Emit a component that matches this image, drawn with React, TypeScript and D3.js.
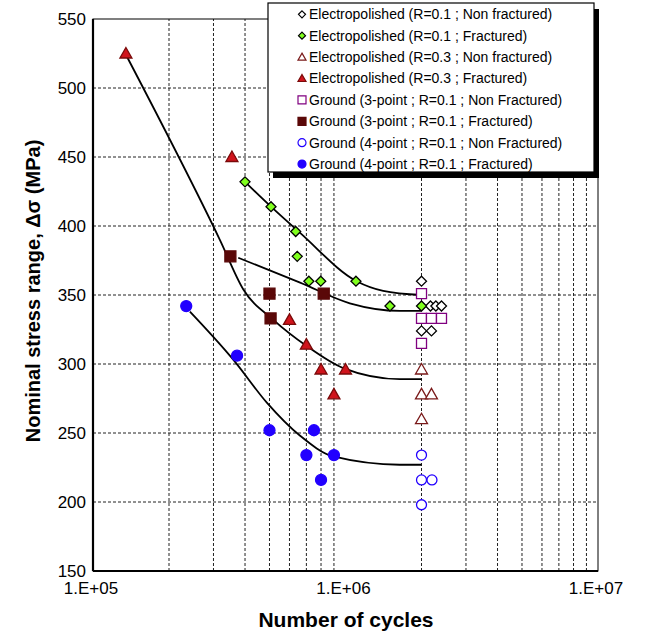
import * as d3 from 'd3';

// Electropolished R=0.1, non fractured (open diamonds)
const epR01NonFracN = [2.0e6, 2.17e6, 2.28e6, 2.4e6, 2.0e6, 2.19e6];
const epR01NonFracS = [360, 342, 342, 342, 324, 324];
// Electropolished R=0.1, fractured (green diamonds)
const epR01FracN = [4.0e5, 5.07e5, 6.35e5, 6.44e5, 7.16e5, 7.98e5, 1.1e6, 1.5e6, 2.0e6];
const epR01FracS = [432, 414, 396, 378, 360, 360, 360, 342, 342];
// Electropolished R=0.3, non fractured (open triangles)
const epR03NonFracN = [2.0e6, 2.0e6, 2.19e6, 2.0e6];
const epR03NonFracS = [296, 278, 278, 260];
// Electropolished R=0.3, fractured (red triangles)
const epR03FracN = [1.35e5, 3.55e5, 6.0e5, 7.0e5, 8.0e5, 9.0e5, 1.0e6];
const epR03FracS = [525, 450, 332, 314, 296, 278, 296];
// Ground 3-point, non fractured (open squares)
const gr3NonFracN = [2.0e6, 2.0e6, 2.19e6, 2.4e6, 2.0e6];
const gr3NonFracS = [351, 333, 333, 333, 315];
// Ground 3-point, fractured (maroon squares)
const gr3FracN = [3.5e5, 5.0e5, 5.05e5, 8.2e5];
const gr3FracS = [378, 351, 333, 351];
// Ground 4-point, non fractured (open circles)
const gr4NonFracN = [2.0e6, 2.0e6, 2.2e6, 2.0e6];
const gr4NonFracS = [234, 216, 216, 198];
// Ground 4-point, fractured (blue circles)
const gr4FracN = [2.34e5, 3.72e5, 5.0e5, 7.5e5, 7.0e5, 9.0e5, 8.0e5];
const gr4FracS = [342, 306, 252, 252, 234, 234, 216];

// fitted curves
const fitEpR01N = [4.0e5, 5.07e5, 6.61e5, 1.107e6, 1.41e6, 2.0e6];
const fitEpR01S = [432, 414, 395, 360, 353, 350];
const fitGr3N = [3.76e5, 6.61e5, 1.04e6, 1.64e6, 2.0e6];
const fitGr3S = [377, 359, 344, 338.5, 338.5];
const fitEpR03N = [1.36e5, 3.18e5, 3.94e5, 5.18e5, 7.02e5, 9.8e5, 1.64e6, 2.0e6];
const fitEpR03S = [523, 390, 354, 332, 313, 297, 289, 289];
const fitGr4N = [2.42e5, 3.6e5, 4.88e5, 6.61e5, 8.95e5, 1.64e6, 2.0e6];
const fitGr4S = [338, 303, 272, 248, 233, 227, 227];

const yTicks = [150, 200, 250, 300, 350, 400, 450, 500, 550];
const xTicks = [1e5, 1e6, 1e7];
const xTickLabels = ['1.E+05', '1.E+06', '1.E+07'];

const legendLabels = [
    'Electropolished (R=0.1 ; Non fractured)',
    'Electropolished (R=0.1 ; Fractured)',
    'Electropolished (R=0.3 ; Non fractured)',
    'Electropolished (R=0.3 ; Fractured)',
    'Ground (3-point ; R=0.1 ; Non Fractured)',
    'Ground (3-point ; R=0.1 ; Fractured)',
    'Ground (4-point ; R=0.1 ; Non Fractured)',
    'Ground (4-point ; R=0.1 ; Fractured)',
];

type Shape = 'diamond' | 'triangle' | 'square' | 'circle';
type Style = { shape: Shape; fill: string; stroke: string; size: number };

const styles: Style[] = [
    { shape: 'diamond', fill: '#fff', stroke: '#000', size: 5 },
    { shape: 'diamond', fill: '#80ff1e', stroke: '#000', size: 5 },
    { shape: 'triangle', fill: '#fff', stroke: '#7a1a1a', size: 6 },
    { shape: 'triangle', fill: '#d0141c', stroke: '#7a0a0a', size: 6 },
    { shape: 'square', fill: '#fff', stroke: '#800080', size: 5 },
    { shape: 'square', fill: '#5a0808', stroke: '#5a0808', size: 5.5 },
    { shape: 'circle', fill: '#fff', stroke: '#2200ff', size: 5 },
    { shape: 'circle', fill: '#2200ff', stroke: '#2200ff', size: 5.5 },
];

const seriesN = [epR01NonFracN, epR01FracN, epR03NonFracN, epR03FracN, gr3NonFracN, gr3FracN, gr4NonFracN, gr4FracN];
const seriesS = [epR01NonFracS, epR01FracS, epR03NonFracS, epR03FracS, gr3NonFracS, gr3FracS, gr4NonFracS, gr4FracS];
const fitN = [fitEpR01N, fitGr3N, fitEpR03N, fitGr4N];
const fitS = [fitEpR01S, fitGr3S, fitEpR03S, fitGr4S];

function markerPath(shape: Shape, r: number) {
    if (shape === 'diamond') return `M0,${-r}L${r},0L0,${r}L${-r},0Z`;
    if (shape === 'triangle') return `M0,${-r}L${r},${r * 0.75}L${-r},${r * 0.75}Z`;
    if (shape === 'square') return `M${-r},${-r}H${r}V${r}H${-r}Z`;
    return `M${r},0A${r},${r} 0 1,1 ${-r},0A${r},${r} 0 1,1 ${r},0Z`;
}

const font = '"Liberation Sans", Arial, sans-serif';

export default function App() {
    const width = 645;
    const height = 638;
    const margin = { top: 19, right: 47, bottom: 67, left: 93 };

    const x = d3.scaleLog().domain([1e5, 1e7]).range([margin.left, width - margin.right]);
    const y = d3.scaleLinear().domain([150, 550]).range([height - margin.bottom, margin.top]);

    const xGrid = d3.range(1, 3).flatMap((dec) => d3.range(2, 10).map((m) => m * Math.pow(10, 4 + dec)));
    const yGrid = yTicks.slice(1, -1);

    const line = d3
        .line<[number, number]>()
        .x((d) => x(d[0]))
        .y((d) => y(d[1]))
        .curve(d3.curveMonotoneX);

    const legend = { x: 268, y: 3, w: 326, h: 169, row: 21.4 };

    return (
        <svg width={width} height={height} style={{ position: 'absolute', left: 0, top: 0, background: '#fff' }}>
            {/* grid */}
            <g stroke="#222" strokeWidth={1} strokeDasharray="3,2">
                {xGrid.map((v) => (
                    <line key={'gx' + v} x1={x(v)} x2={x(v)} y1={y(150)} y2={y(550)} />
                ))}
                {yGrid.map((v) => (
                    <line key={'gy' + v} x1={x(1e5)} x2={x(1e7)} y1={y(v)} y2={y(v)} />
                ))}
            </g>

            {/* fitted curves */}
            <g fill="none" stroke="#000" strokeWidth={1.8}>
                {fitN.map((ns, i) => (
                    <path key={'fit' + i} d={line(ns.map((n, j) => [n, fitS[i][j]] as [number, number])) ?? ''} />
                ))}
            </g>

            {/* markers */}
            {seriesN.map((ns, i) => (
                <g key={'s' + i}>
                    {ns.map((n, j) => (
                        <path
                            key={j}
                            transform={`translate(${x(n)},${y(seriesS[i][j])})`}
                            d={markerPath(styles[i].shape, styles[i].size)}
                            fill={styles[i].fill}
                            stroke={styles[i].stroke}
                            strokeWidth={1.3}
                        />
                    ))}
                </g>
            ))}

            {/* frame */}
            <rect x={x(1e5)} y={y(550)} width={x(1e7) - x(1e5)} height={y(150) - y(550)} fill="none" stroke="#000" strokeWidth={1} />
            <line x1={x(1e5)} x2={x(1e5)} y1={y(550)} y2={y(150)} stroke="#000" strokeWidth={2.2} />
            <line x1={x(1e5)} x2={x(1e7)} y1={y(150)} y2={y(150)} stroke="#000" strokeWidth={2.2} />

            {/* legend */}
            <rect x={legend.x + 5} y={legend.y + 6} width={legend.w} height={legend.h} fill="#000" />
            <rect x={legend.x} y={legend.y} width={legend.w} height={legend.h} fill="#fff" stroke="#000" strokeWidth={1.2} />
            {legendLabels.map((lab, i) => {
                const cy = legend.y + 11.3 + i * legend.row;
                const st = styles[i];
                return (
                    <g key={'lg' + i}>
                        <path
                            transform={`translate(${legend.x + 34},${cy})`}
                            d={markerPath(st.shape, st.shape === 'diamond' ? 3.5 : 4)}
                            fill={st.fill}
                            stroke={st.stroke}
                            strokeWidth={1.2}
                        />
                        <text x={legend.x + 41} y={cy} dy="0.35em" fontFamily={font} fontSize={14} fill="#000">
                            {lab}
                        </text>
                    </g>
                );
            })}

            {/* y ticks */}
            {yTicks.map((v) => (
                <text key={'yt' + v} x={x(1e5) - 7} y={y(v)} dy="0.33em" textAnchor="end" fontFamily={font} fontSize={17}>
                    {v}
                </text>
            ))}
            {/* x ticks */}
            {xTicks.map((v, i) => (
                <text key={'xt' + v} x={x(v) - 2} y={y(150) + 23} textAnchor="middle" fontFamily={font} fontSize={17}>
                    {xTickLabels[i]}
                </text>
            ))}

            {/* axis titles */}
            <text x={346} y={627} textAnchor="middle" fontFamily={font} fontSize={21} fontWeight="bold">
                Number of cycles
            </text>
            <text
                transform={`translate(40,291) rotate(-90)`}
                textAnchor="middle"
                fontFamily={font}
                fontSize={20}
                fontWeight="bold"
            >
                Nominal stress range, Δσ (MPa)
            </text>
        </svg>
    );
}
